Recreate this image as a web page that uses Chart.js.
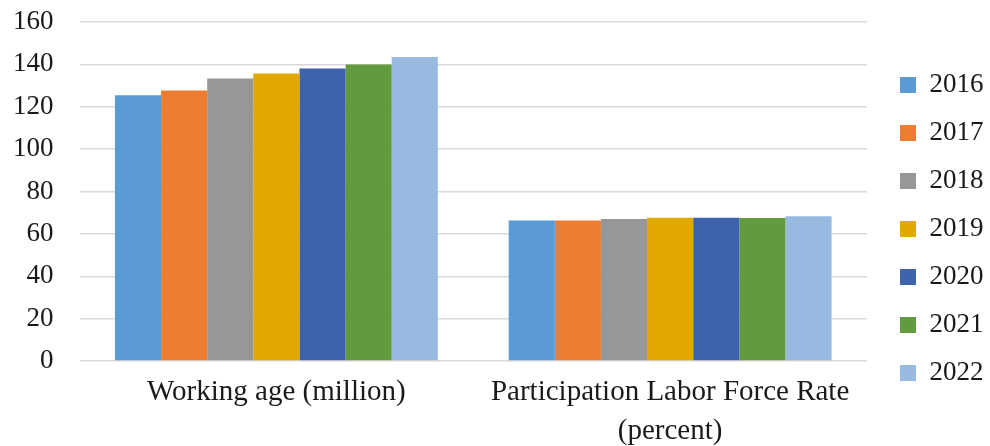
<!DOCTYPE html>
<html>
<head>
<meta charset="utf-8">
<script src="https://cdn.jsdelivr.net/npm/chart.js@4/dist/chart.umd.min.js"></script>
<style>
  html, body { margin: 0; padding: 0; background: #ffffff; }
  #wrap { width: 990px; height: 446px; }
</style>
</head>
<body>
<div id="wrap"><canvas id="chart" width="990" height="446"></canvas></div>
<script>
// Categories on the x axis
const categories = [
  "Working age (million)",
  ["Participation Labor Force Rate", "(percent)"]
];

// One series per year: [working age, participation rate]
const years = ["2016", "2017", "2018", "2019", "2020", "2021", "2022"];
const v2016 = [125.4, 66.3];
const v2017 = [127.7, 66.3];
const v2018 = [133.3, 67.0];
const v2019 = [135.7, 67.6];
const v2020 = [138.0, 67.6];
const v2021 = [140.0, 67.5];
const v2022 = [143.5, 68.3];
const seriesValues = [v2016, v2017, v2018, v2019, v2020, v2021, v2022];

const seriesColors = ["#5B9BD5", "#ED7D31", "#979797", "#E1A900", "#3C63AC", "#629A3E", "#98B9E0"];

// y axis ticks
const yMin = 0, yMax = 160, yStep = 20;

const serif = "'Liberation Serif', 'Times New Roman', serif";

const datasets = years.map((y, i) => ({
  label: y,
  data: seriesValues[i],
  backgroundColor: seriesColors[i],
  borderWidth: 0,
  barPercentage: 1.0,
  categoryPercentage: 0.82
}));

// fixed-width legend column, with its entries nudged into place
const LEGEND_WIDTH = 123;
const LEGEND_SHIFT_X = 12;
const LEGEND_SHIFT_Y = -5;
const legendPlacement = {
  id: 'legendPlacement',
  beforeInit(chart) {
    const lg = chart.legend;
    if (!lg) return;
    const origFit = lg.fit;
    lg.fit = function () {
      origFit.call(this);
      this.width = LEGEND_WIDTH;
    };
  },
  afterLayout(chart) {
    const lg = chart.legend;
    if (!lg) return;
    lg.left += LEGEND_SHIFT_X;
    lg.right += LEGEND_SHIFT_X;
    lg.top += LEGEND_SHIFT_Y;
    lg.bottom += LEGEND_SHIFT_Y;
  }
};

new Chart(document.getElementById('chart'), {
  type: 'bar',
  data: { labels: categories, datasets },
  plugins: [legendPlacement],
  options: {
    responsive: false,
    animation: false,
    layout: { padding: { top: 22, right: 0, left: -13, bottom: 0 } },
    plugins: {
      tooltip: { enabled: false },
      legend: {
        position: 'right',
        align: 'center',
        labels: {
          boxWidth: 16,
          boxHeight: 16,
          padding: 21,
          color: '#1a1a1a',
          font: { family: serif, size: 27 }
        }
      }
    },
    scales: {
      x: {
        grid: { display: false, drawTicks: false },
        border: { display: false },
        afterFit(scale) { scale.height = 85; },
        ticks: {
          maxRotation: 0,
          autoSkip: false,
          padding: 12,
          color: '#1a1a1a',
          font: { family: serif, size: 29, lineHeight: '39px' }
        }
      },
      y: {
        min: yMin,
        max: yMax,
        grid: { color: '#d9d9d9', lineWidth: 1.5, drawTicks: false },
        border: { display: false },
        afterFit(scale) { scale.paddingTop = 0; scale.paddingBottom = 0; },
        ticks: {
          stepSize: yStep,
          padding: 26,
          color: '#1a1a1a',
          font: { family: serif, size: 27 }
        }
      }
    }
  }
});
</script>
</body>
</html>
